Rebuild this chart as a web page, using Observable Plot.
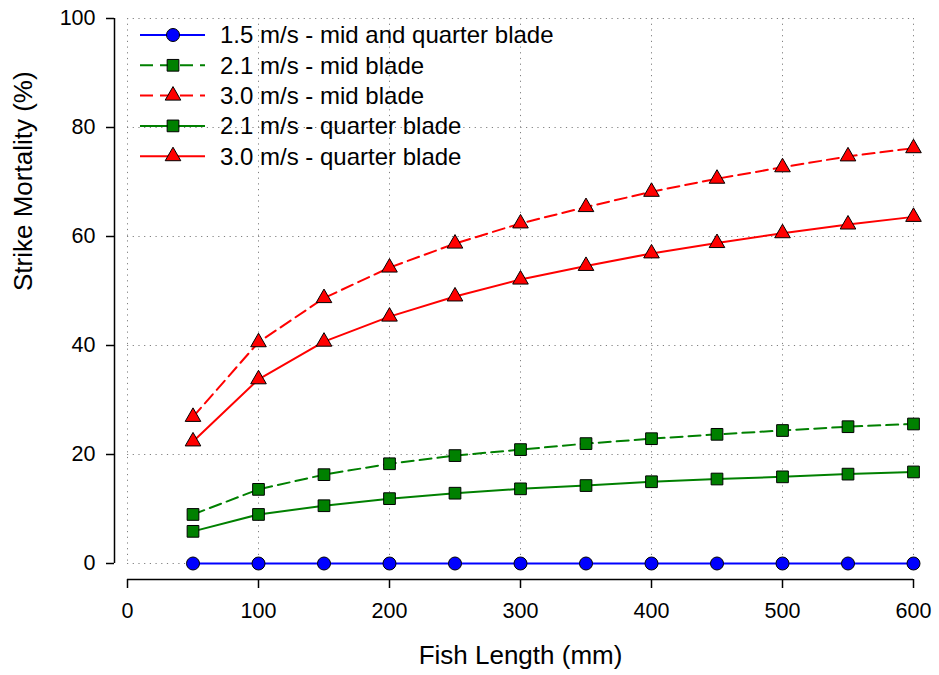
<!DOCTYPE html>
<html><head><meta charset="utf-8">
<script src="https://cdn.jsdelivr.net/npm/d3@7"></script>
<script src="https://cdn.jsdelivr.net/npm/@observablehq/plot@0.6"></script>
<style>
body{margin:0;background:#fff;}
#chart{position:relative;width:939px;height:675px;}
svg{font-family:"Liberation Sans",Arial,sans-serif;}
</style>
</head><body><div id="chart"></div><script>
// ---- data ----
const fishLength = [50, 100, 150, 200, 250, 300, 350, 400, 450, 500, 550, 600];
const mort15MidQuarter = [0, 0, 0, 0, 0, 0, 0, 0, 0, 0, 0, 0];
const mort21Mid = [9.0, 13.6, 16.3, 18.3, 19.8, 20.9, 22.0, 22.9, 23.7, 24.4, 25.1, 25.6];
const mort30Mid = [26.9, 40.6, 48.7, 54.3, 58.7, 62.4, 65.4, 68.2, 70.6, 72.7, 74.7, 76.2];
const mort21Quarter = [5.9, 9.0, 10.6, 11.9, 12.9, 13.7, 14.3, 15.0, 15.5, 15.9, 16.4, 16.8];
const mort30Quarter = [22.4, 33.8, 40.7, 45.3, 49.0, 52.1, 54.6, 56.9, 58.8, 60.6, 62.2, 63.6];
const seriesNames = ["1.5 m/s - mid and quarter blade", "2.1 m/s - mid blade", "3.0 m/s - mid blade", "2.1 m/s - quarter blade", "3.0 m/s - quarter blade"];
const seriesValues = [mort15MidQuarter, mort21Mid, mort30Mid, mort21Quarter, mort30Quarter];
const xTicks = [0, 100, 200, 300, 400, 500, 600];
const yTicks = [0, 20, 40, 60, 80, 100];

// ---- styles ----
const styles = [
  {color: "#0000ff", dash: null, symbol: "circle", r: 6.5},
  {color: "#008000", dash: "12,6", symbol: "square", r: 6.6},
  {color: "#ff0000", dash: "12,6", symbol: "triangle", r: 5.8},
  {color: "#008000", dash: null, symbol: "square", r: 6.6},
  {color: "#ff0000", dash: null, symbol: "triangle", r: 5.8}
];

const rows = seriesNames.map((name, i) => fishLength.map((x, j) => ({series: name, x, y: seriesValues[i][j]})));

const seriesMarks = [];
rows.forEach((data, i) => {
  const s = styles[i];
  seriesMarks.push(Plot.line(data, {x: "x", y: "y", stroke: s.color, strokeWidth: 2, strokeDasharray: s.dash ?? undefined}));
});
[4, 3, 2, 1, 0].forEach(i => {
  const s = styles[i];
  seriesMarks.push(Plot.dot(rows[i], {x: "x", y: "y", symbol: () => s.symbol, fill: s.color, stroke: "black", strokeWidth: 1, r: s.r}));
});

const plot = Plot.plot({
  width: 939,
  height: 675,
  marginLeft: 127,
  marginRight: 26,
  marginTop: 18,
  marginBottom: 112,
  style: {fontFamily: '"Liberation Sans", Arial, sans-serif', background: "#fff"},
  x: {domain: [0, 600]},
  y: {domain: [0, 100]},
  marks: [
    Plot.gridX(xTicks, {stroke: "#808080", strokeOpacity: 1, strokeWidth: 1, strokeDasharray: "1.2,4.5"}),
    Plot.gridY(yTicks, {stroke: "#808080", strokeOpacity: 1, strokeWidth: 1, strokeDasharray: "1.2,4.5"}),
    ...seriesMarks,
    Plot.ruleX([0], {dx: -13, stroke: "black", strokeWidth: 1.5}),
    Plot.ruleY([0], {dy: 16, stroke: "black", strokeWidth: 1.5}),
    Plot.axisY(yTicks, {tickSize: 8, dx: -13, tickPadding: 11, fontSize: 21.5, label: null, stroke: "black", strokeWidth: 1.5, fill: "black"}),
    Plot.axisX(xTicks, {tickSize: 9, dy: 16, tickPadding: 14, fontSize: 21.5, label: null, stroke: "black", strokeWidth: 1.5, fill: "black"}),
    Plot.text(["Fish Length (mm)"], {frameAnchor: "bottom", dy: 100, fontSize: 26, fill: "black"}),
    Plot.text(["Strike Mortality (%)"], {frameAnchor: "left", rotate: -90, dx: -104, fontSize: 26, fill: "black"})
  ]
});

document.getElementById("chart").appendChild(plot);

// ---- legend (inside plot, top-left) ----
const svg = d3.select(plot);
const lg = svg.append("g").attr("class", "legend").attr("text-anchor", "start");
const lx0 = 140, lx1 = 205, lmx = 173, ltx = 220, ly0 = 35, lstep = 30.3;
const symMap = {circle: d3.symbolCircle, square: d3.symbolSquare, triangle: d3.symbolTriangle};
seriesNames.forEach((name, i) => {
  const s = styles[i];
  const y = ly0 + i * lstep;
  lg.append("line").attr("x1", lx0).attr("x2", lx1).attr("y1", y).attr("y2", y)
    .attr("stroke", s.color).attr("stroke-width", 2)
    .attr("stroke-dasharray", s.dash ? "13,7" : null);
  lg.append("path").attr("transform", `translate(${lmx},${y})`)
    .attr("d", d3.symbol(symMap[s.symbol], s.r * s.r * Math.PI)())
    .attr("fill", s.color).attr("stroke", "black").attr("stroke-width", 1);
  lg.append("text").attr("x", ltx).attr("y", y).attr("dy", "0.35em")
    .attr("text-anchor", "start")
    .attr("font-size", 24).attr("fill", "black").text(name);
});
</script></body></html>
